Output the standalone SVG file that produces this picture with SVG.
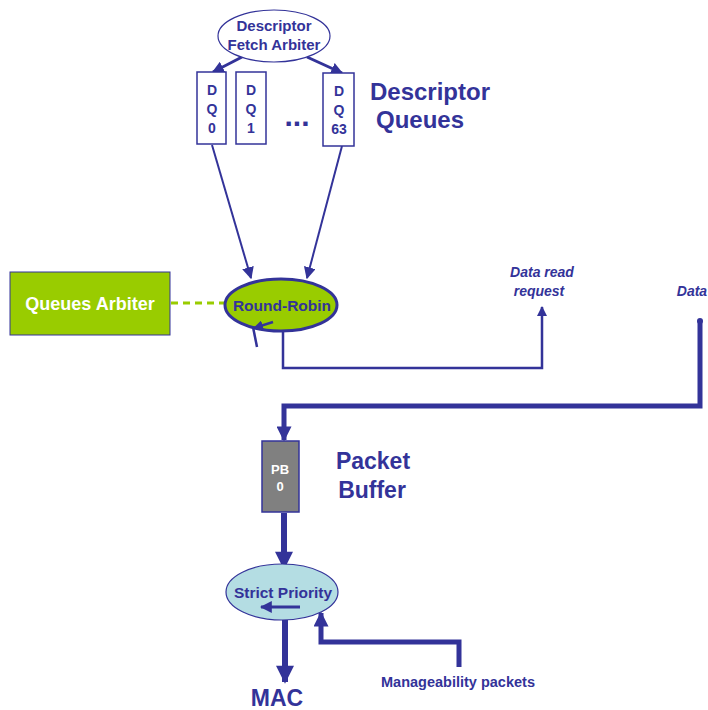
<svg xmlns="http://www.w3.org/2000/svg" width="708" height="710" viewBox="0 0 708 710">
<defs>
<style>
text{font-family:"Liberation Sans",Arial,sans-serif;font-weight:bold;fill:#333399;text-anchor:middle}
.c{stroke:#333399;fill:none}
.box{fill:#fff;stroke:#333399;stroke-width:1.5}
</style>
<marker id="a" viewBox="0 0 10 10" refX="9" refY="5" markerWidth="4" markerHeight="4" orient="auto" markerUnits="strokeWidth"><path d="M0,0L10,5L0,10z" fill="#333399"/></marker>
<marker id="t" viewBox="0 0 10 10" refX="9" refY="5" markerWidth="6" markerHeight="6" orient="auto" markerUnits="strokeWidth"><path d="M0,0L10,5L0,10z" fill="#333399"/></marker>
<marker id="b" viewBox="0 0 10 10" refX="9" refY="5" markerWidth="3.5" markerHeight="3" orient="auto" markerUnits="strokeWidth"><path d="M0,0L10,5L0,10z" fill="#333399"/></marker>
</defs>
<rect width="708" height="710" fill="#fff"/>
<g id="connectors">
<line class="c" x1="242" y1="57" x2="213" y2="72" stroke-width="3" marker-end="url(#a)"/>
<line class="c" x1="307" y1="57" x2="342" y2="73" stroke-width="3" marker-end="url(#a)"/>
<line class="c" x1="212" y1="145" x2="251" y2="278" stroke-width="2" marker-end="url(#t)"/>
<line class="c" x1="342" y1="146" x2="307" y2="278" stroke-width="2" marker-end="url(#t)"/>
<line x1="171" y1="303" x2="225" y2="303" stroke="#99cc00" stroke-width="3" stroke-dasharray="7,5"/>
<polyline class="c" points="283,332 283,368 542,368 542,307" stroke-width="2.5" marker-end="url(#a)"/>
<polyline class="c" points="700,321 700,406 284,406 284,440" stroke-width="5" marker-end="url(#b)"/>
<circle cx="700" cy="321" r="3" fill="#333399"/>
<line class="c" x1="284" y1="513" x2="284" y2="568" stroke-width="6" marker-end="url(#b)"/>
<line class="c" x1="285" y1="620" x2="285" y2="682" stroke-width="6" marker-end="url(#b)"/>
<polyline class="c" points="459,667 459,642 321,642 321,613" stroke-width="5" marker-end="url(#b)"/>
</g>
<g id="fetch-arbiter">
<ellipse cx="274" cy="36" rx="56" ry="26" fill="#fff" stroke="#333399" stroke-width="1.2"/>
<text x="274" y="31" font-size="15">Descriptor</text>
<text x="274" y="50" font-size="15">Fetch Arbiter</text>
</g>
<g id="dq0">
<rect class="box" x="197" y="72" width="29" height="72"/>
<text x="212" y="95" font-size="14">D</text><text x="212" y="114" font-size="14">Q</text><text x="212" y="133" font-size="14">0</text>
</g>
<g id="dq1">
<rect class="box" x="236" y="72" width="30" height="72"/>
<text x="251" y="95" font-size="14">D</text><text x="251" y="114" font-size="14">Q</text><text x="251" y="133" font-size="14">1</text>
</g>
<g id="dots"><text x="297" y="126" font-size="30">...</text></g>
<g id="dq63">
<rect class="box" x="323" y="73" width="31" height="73"/>
<text x="339" y="96" font-size="14">D</text><text x="339" y="115" font-size="14">Q</text><text x="339" y="134" font-size="14">63</text>
</g>
<g id="dq-label">
<text x="430" y="100" font-size="24">Descriptor</text>
<text x="420" y="128" font-size="24">Queues</text>
</g>
<g id="queues-arbiter">
<rect x="10" y="272" width="160" height="63" fill="#99cc00" stroke="#333399" stroke-width="1"/>
<text x="90" y="310" font-size="18" style="fill:#fff">Queues Arbiter</text>
</g>
<g id="round-robin">
<ellipse cx="281" cy="305" rx="56" ry="26" fill="#99cc00" stroke="#333399" stroke-width="3"/>
<text x="282" y="311" font-size="15.5">Round-Robin</text>
<line class="c" x1="273" y1="322" x2="254" y2="328" stroke-width="2.5" marker-end="url(#a)"/>
<line class="c" x1="253" y1="327" x2="257" y2="347" stroke-width="2.5"/>
</g>
<g id="data-read">
<text x="542" y="277" font-size="14" font-style="italic">Data read</text>
<text x="539" y="296" font-size="14" font-style="italic">request</text>
</g>
<g id="data"><text x="692" y="296" font-size="14" font-style="italic">Data</text></g>
<g id="pb0">
<rect x="262" y="441" width="37" height="71" fill="#808080" stroke="#333399" stroke-width="1.5"/>
<text x="280" y="474" font-size="13" style="fill:#fff">PB</text>
<text x="280" y="491" font-size="13" style="fill:#fff">0</text>
</g>
<g id="pb-label">
<text x="373" y="469" font-size="23">Packet</text>
<text x="372" y="498" font-size="23">Buffer</text>
</g>
<g id="strict-priority">
<ellipse cx="282" cy="592" rx="56" ry="28" fill="#b4dde3" stroke="#333399" stroke-width="1.2"/>
<text x="283" y="598" font-size="15.5">Strict Priority</text>
<line class="c" x1="300" y1="607" x2="261" y2="607" stroke-width="3" marker-end="url(#a)"/>
</g>
<g id="manageability"><text x="458" y="687" font-size="14.5">Manageability packets</text></g>
<g id="mac"><text x="277" y="706" font-size="23">MAC</text></g>
</svg>
